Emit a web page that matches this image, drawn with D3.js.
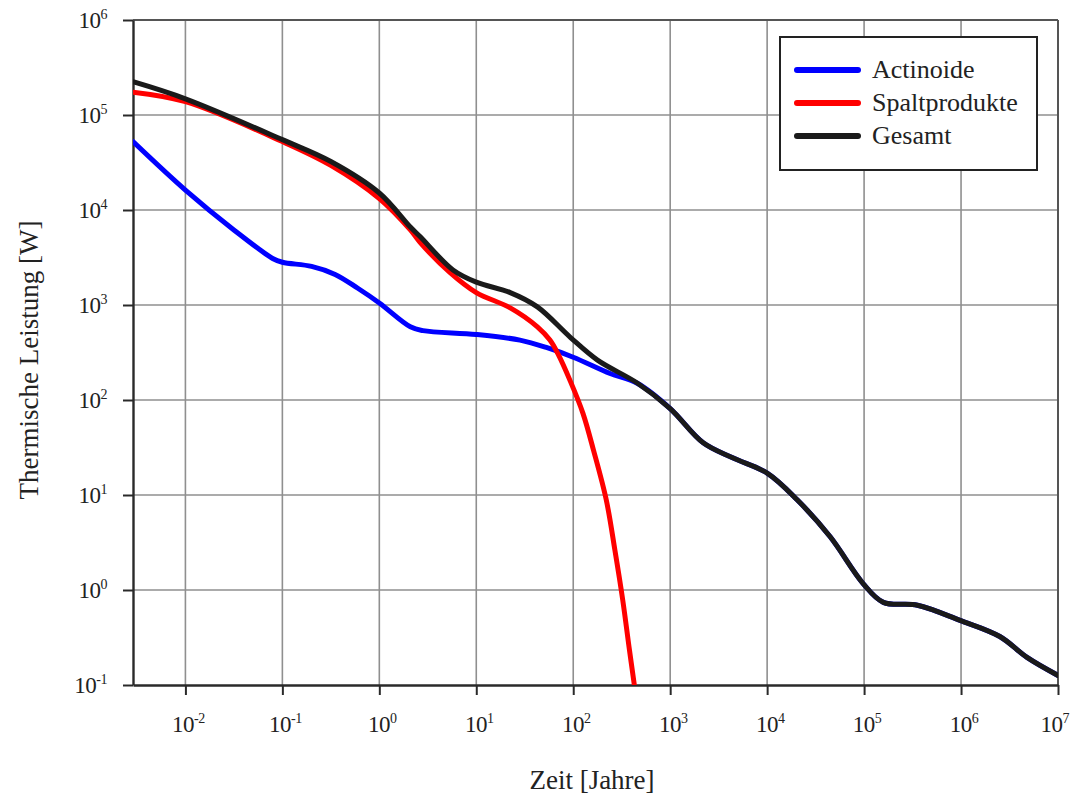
<!DOCTYPE html>
<html>
<head>
<meta charset="utf-8">
<script src="https://cdn.jsdelivr.net/npm/d3@7/dist/d3.min.js"></script>
<style>
  html, body { margin: 0; padding: 0; background: #fff; }
  svg { display: block; }
  text { font-family: "Liberation Serif", "Times New Roman", serif; fill: #222; }
</style>
</head>
<body>
<svg id="chart" width="1070" height="795"></svg>
<script>
// ---- Data (time in years, thermal power in W) ----
const seriesNames = ["Actinoide", "Spaltprodukte", "Gesamt"];
const seriesColors = ["#0000ff", "#ff0000", "#1a1a1a"];

const actinoideT = [0.00288, 0.01, 0.0316, 0.0794, 0.1, 0.2, 0.35, 0.6, 1, 2.09, 2.82, 10, 28.2, 53.7, 100, 240, 457, 1000, 2190, 4470, 10000, 20400, 44700, 97700, 158000, 355000, 977000, 2510000, 4790000, 10000000];
const actinoideP = [52500, 16200, 6170, 3090, 2820, 2550, 2100, 1500, 1050, 589, 537, 490, 427, 355, 282, 190, 150, 81.3, 35.5, 24.5, 17.0, 8.91, 3.63, 1.17, 0.741, 0.692, 0.479, 0.324, 0.195, 0.126];

const spaltT = [0.00288, 0.01, 0.1, 0.316, 1, 2.09, 2.63, 5.37, 10, 22.4, 42.7, 57.5, 69.2, 93.3, 126, 162, 219, 269, 324, 380, 427];
const spaltP = [174000, 138000, 52500, 29500, 13200, 6170, 4570, 2190, 1350, 933, 589, 427, 309, 158, 72.4, 29.5, 8.91, 2.63, 0.785, 0.234, 0.1];

const gesamtT = [0.00288, 0.01, 0.1, 0.316, 1, 2.09, 2.63, 5.75, 10, 22.4, 42.7, 93.3, 178, 457, 1000, 2190, 4470, 10000, 20400, 44700, 97700, 158000, 355000, 977000, 2510000, 4790000, 10000000];
const gesamtP = [224000, 148000, 55000, 32400, 15100, 6610, 5250, 2340, 1740, 1350, 955, 457, 263, 151, 81.3, 35.5, 24.5, 17.0, 8.91, 3.63, 1.17, 0.741, 0.692, 0.479, 0.324, 0.195, 0.126];

const xTickExps = [-2, -1, 0, 1, 2, 3, 4, 5, 6, 7];
const yTickExps = [-1, 0, 1, 2, 3, 4, 5, 6];
const xTitle = "Zeit [Jahre]";
const yTitle = "Thermische Leistung [W]";

// ---- Layout ----
const svg = d3.select("#chart");
const pLeft = 133, pRight = 1058, pTop = 20, pBottom = 685;

const x = d3.scaleLog().domain([0.00288, 1e7]).range([pLeft, pRight]);
const y = d3.scaleLog().domain([0.1, 1e6]).range([pBottom, pTop]);

const gridColor = "#8f8f8f";
const axisColor = "#2a2a2a";

// grid
const grid = svg.append("g");
grid.selectAll("line.vx")
  .data(xTickExps.filter(e => e < 7))
  .join("line")
  .attr("x1", e => x(Math.pow(10, e))).attr("x2", e => x(Math.pow(10, e)))
  .attr("y1", pTop).attr("y2", pBottom)
  .attr("stroke", gridColor).attr("stroke-width", 1.6);
grid.selectAll("line.hy")
  .data(yTickExps.filter(e => e > -1 && e < 6))
  .join("line")
  .attr("y1", e => y(Math.pow(10, e))).attr("y2", e => y(Math.pow(10, e)))
  .attr("x1", pLeft).attr("x2", pRight)
  .attr("stroke", gridColor).attr("stroke-width", 1.6);

// frame top/right
svg.append("line").attr("x1", pLeft).attr("x2", pRight).attr("y1", pTop).attr("y2", pTop)
  .attr("stroke", "#555").attr("stroke-width", 2);
svg.append("line").attr("x1", pRight).attr("x2", pRight).attr("y1", pTop).attr("y2", pBottom)
  .attr("stroke", "#555").attr("stroke-width", 2);

// axes
const xAxis = d3.axisBottom(x)
  .tickValues(xTickExps.map(e => Math.pow(10, e)))
  .tickSize(10).tickSizeOuter(0).tickFormat("");
const yAxis = d3.axisLeft(y)
  .tickValues(yTickExps.map(e => Math.pow(10, e)))
  .tickSize(10).tickSizeOuter(0).tickFormat("");

const gx = svg.append("g").attr("transform", `translate(0,${pBottom})`).call(xAxis);
const gy = svg.append("g").attr("transform", `translate(${pLeft},0)`).call(yAxis);
[gx, gy].forEach(g => {
  g.select(".domain").attr("stroke", axisColor).attr("stroke-width", 2.4);
  g.selectAll(".tick line").attr("stroke", axisColor).attr("stroke-width", 2);
});

// tick labels
function powLabel(sel, e) {
  sel.append("tspan").text("10");
  sel.append("tspan").attr("font-size", 14).attr("dy", -9).text(e < 0 ? "-" + Math.abs(e) : String(e));
}
xTickExps.forEach(e => {
  const last = e === xTickExps[xTickExps.length - 1];
  const t = svg.append("text")
    .attr("x", last ? 1069 : x(Math.pow(10, e)) + 3)
    .attr("y", 732)
    .attr("text-anchor", last ? "end" : "middle")
    .attr("letter-spacing", -0.5)
    .attr("font-size", 23);
  powLabel(t, e);
});
yTickExps.forEach(e => {
  const t = svg.append("text")
    .attr("x", 107)
    .attr("y", y(Math.pow(10, e)) + 8)
    .attr("text-anchor", "end")
    .attr("letter-spacing", -0.5)
    .attr("font-size", 23);
  powLabel(t, e);
});

// axis titles
svg.append("text").attr("x", 592).attr("y", 789).attr("text-anchor", "middle")
  .attr("font-size", 27).text(xTitle);
svg.append("text").attr("transform", "translate(38,360) rotate(-90)").attr("text-anchor", "middle")
  .attr("font-size", 27).text(yTitle);

// clip
svg.append("clipPath").attr("id", "plotclip").append("rect")
  .attr("x", pLeft).attr("y", pTop).attr("width", pRight - pLeft).attr("height", pBottom - pTop);

// lines
const line = d3.line().x(d => x(d[0])).y(d => y(d[1])).curve(d3.curveCatmullRom.alpha(0.5));
const series = [
  d3.zip(actinoideT, actinoideP),
  d3.zip(spaltT, spaltP),
  d3.zip(gesamtT, gesamtP)
];
const lines = svg.append("g").attr("clip-path", "url(#plotclip)");
series.forEach((s, i) => {
  lines.append("path")
    .attr("d", line(s))
    .attr("fill", "none")
    .attr("stroke", seriesColors[i])
    .attr("stroke-width", 5)
    .attr("stroke-linejoin", "round")
    .attr("stroke-linecap", "round");
});

// legend
const lg = svg.append("g");
lg.append("rect").attr("x", 780).attr("y", 37).attr("width", 257).attr("height", 133)
  .attr("fill", "#fff").attr("stroke", "#222").attr("stroke-width", 2);
seriesNames.forEach((n, i) => {
  const yy = 70 + i * 33;
  lg.append("line").attr("x1", 797).attr("x2", 858).attr("y1", yy).attr("y2", yy)
    .attr("stroke", seriesColors[i]).attr("stroke-width", 6).attr("stroke-linecap", "round");
  lg.append("text").attr("x", 872).attr("y", yy + 8).attr("font-size", 26).text(n);
});
</script>
</body>
</html>
